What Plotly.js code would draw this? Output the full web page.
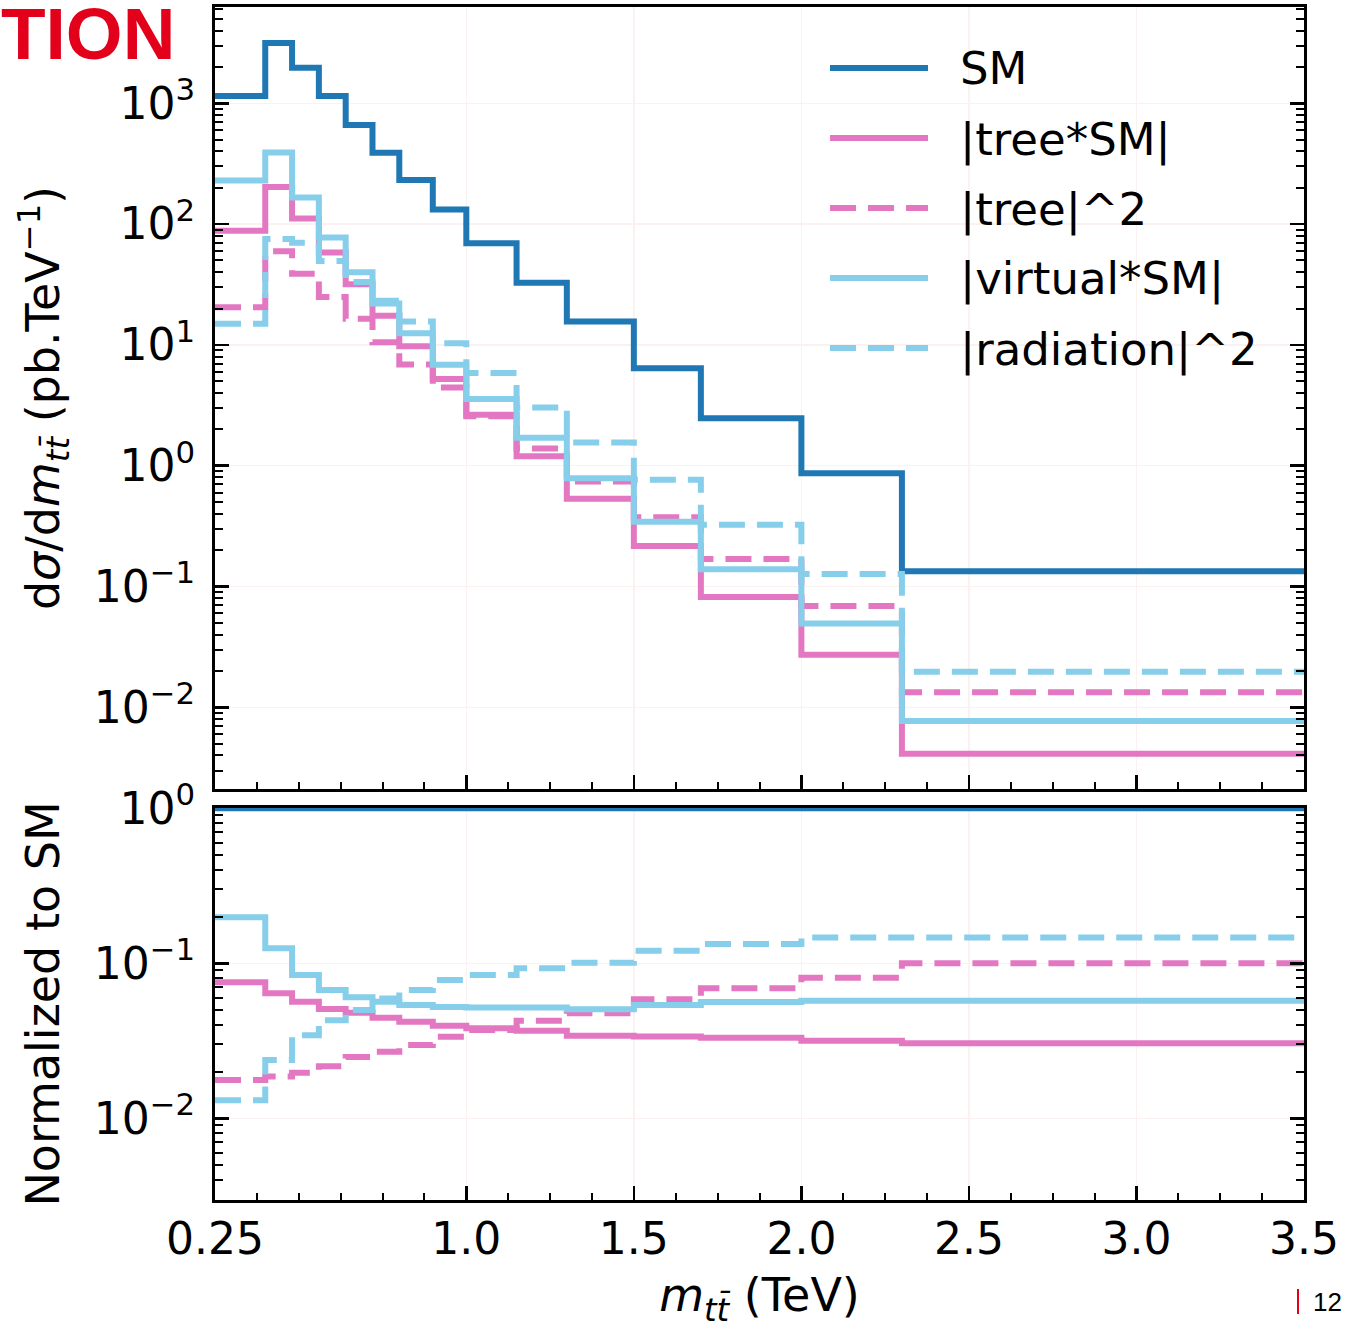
<!DOCTYPE html>
<html>
<head>
<meta charset="utf-8">
<script src="https://cdn.plot.ly/plotly-3.0.1.min.js"></script>
<style>html,body{margin:0;padding:0;background:#fff;}#chart{width:1352px;height:1329px;}</style>
</head>
<body>
<div id="chart"></div>
<script>
// ---- data ----
const binEdges = [0.25, 0.4, 0.48, 0.56, 0.64, 0.72, 0.8, 0.9, 1.0, 1.15, 1.3, 1.5, 1.7, 2.0, 2.3, 3.5];
const smVals      = [1148, 3155, 1972, 1148, 661, 390, 232, 132, 69.4, 32.7, 15.6, 6.40, 2.47, 0.865, 0.134];
const treeSMVals  = [88, 203, 111, 58.2, 31.7, 17.4, 9.74, 5.23, 2.64, 1.20, 0.532, 0.216, 0.0818, 0.0273, 0.00412];
const tree2Vals   = [20.5, 59.5, 38.8, 24.9, 16.5, 10.5, 6.89, 4.44, 2.57, 1.39, 0.74, 0.375, 0.169, 0.069, 0.0133];
const virtSMVals  = [229, 392, 166, 77.3, 39.9, 22.0, 12.5, 6.86, 3.56, 1.70, 0.788, 0.344, 0.139, 0.0495, 0.0077];
const rad2Vals    = [15.0, 75.1, 70.0, 49.4, 33.1, 23.2, 15.6, 10.3, 5.84, 3.04, 1.56, 0.765, 0.325, 0.127, 0.0197];

const ratioSM     = [1, 1, 1, 1, 1, 1, 1, 1, 1, 1, 1, 1, 1, 1, 1];
const ratioTreeSM = [0.0754, 0.064, 0.0565, 0.0507, 0.048, 0.0445, 0.042, 0.0396, 0.0381, 0.0367, 0.0341, 0.0337, 0.0331, 0.0316, 0.0305];
const ratioTree2  = [0.0177, 0.0186, 0.0197, 0.0217, 0.0249, 0.0269, 0.0297, 0.0336, 0.0371, 0.0426, 0.0476, 0.0586, 0.069, 0.0807, 0.1];
const ratioVirtSM = [0.198, 0.125, 0.084, 0.0673, 0.0604, 0.0565, 0.0538, 0.0522, 0.0518, 0.0518, 0.0505, 0.0538, 0.0563, 0.0574, 0.0574];
const ratioRad2   = [0.0131, 0.0238, 0.0344, 0.043, 0.050, 0.0594, 0.0673, 0.078, 0.0841, 0.0929, 0.101, 0.1205, 0.133, 0.147, 0.147];

const seriesNames = ['SM', '|tree*SM|', '|tree|^2', '|virtual*SM|', '|radiation|^2'];
const xTickVals = [0.25, 1.0, 1.5, 2.0, 2.5, 3.0, 3.5];
const xTickText = ['0.25', '1.0', '1.5', '2.0', '2.5', '3.0', '3.5'];
const topTickVals = [1e-2, 1e-1, 1, 10, 100, 1000];
const topTickText = ['10<sup>−2</sup>', '10<sup>−1</sup>', '10<sup>0</sup>', '10<sup>1</sup>', '10<sup>2</sup>', '10<sup>3</sup>'];
const botTickVals = [1e-2, 1e-1, 1];
const botTickText = ['10<sup>−2</sup>', '10<sup>−1</sup>', '10<sup>0</sup>'];

// ---- styles ----
const C_SM = '#1f77b4', C_PINK = '#e377c2', C_SKY = '#87ceeb';
const LW = 6;
const DASH = '26px,12px';
const styles = [
  {color: C_SM, dash: 'solid'},
  {color: C_PINK, dash: 'solid'},
  {color: C_PINK, dash: DASH},
  {color: C_SKY, dash: 'solid'},
  {color: C_SKY, dash: DASH}
];

function stepTrace(vals, st, name, xa, ya) {
  return {
    x: binEdges.slice(),
    y: vals.concat([vals[vals.length - 1]]),
    type: 'scatter', mode: 'lines', name: name,
    line: {shape: 'hv', color: st.color, width: LW, dash: st.dash},
    xaxis: xa, yaxis: ya, showlegend: false, hoverinfo: 'skip'
  };
}

const topSeries = [smVals, treeSMVals, tree2Vals, virtSMVals, rad2Vals];
const botSeries = [ratioSM, ratioTreeSM, ratioTree2, ratioVirtSM, ratioRad2];
const traces = [];
topSeries.forEach((v, i) => traces.push(stepTrace(v, styles[i], seriesNames[i], 'x2', 'y2')));
botSeries.forEach((v, i) => traces.push(stepTrace(v, styles[i], seriesNames[i], 'x', 'y')));

// ---- geometry helpers (pixels -> paper) ----
const ML = 215, MR = 48, MT = 7, MB = 129, W = 1352, H = 1329;
const PW = W - ML - MR, PH = H - MT - MB;
const xp = px => (px - ML) / PW;
const yp = py => (H - MB - py) / PH;

function minorLog(lo, hi) {
  const out = [];
  for (let d = lo; d <= hi; d++) for (let k = 2; k <= 9; k++) out.push(k * Math.pow(10, d));
  return out;
}

const FONT = 'DejaVu Sans';
const GRID = '#fbf1f1';
const TICKSIZE = 44, TITLESIZE = 46, LEGSIZE = 45;
const axisCommon = {
  showline: true, linecolor: '#000', linewidth: 3,
  ticks: 'inside', tickcolor: '#000', tickwidth: 2.5, ticklen: 14,
  showgrid: true, gridcolor: GRID, gridwidth: 1.5, zeroline: false,
  tickfont: {family: FONT, size: TICKSIZE, color: '#000'}
};

const xMinor = {tickmode: 'linear', tick0: 0.25, dtick: 0.125, ticks: 'inside', ticklen: 7, tickwidth: 2, tickcolor: '#000', showgrid: false};

const layout = {
  width: W, height: H,
  margin: {l: ML, r: MR, t: MT, b: MB},
  paper_bgcolor: '#fff', plot_bgcolor: '#fff',
  font: {family: FONT, color: '#000'},
  showlegend: false,
  xaxis: Object.assign({}, axisCommon, {
    anchor: 'y', domain: [0, 1], range: [0.25, 3.5],
    tickmode: 'array', tickvals: xTickVals, ticktext: xTickText,
    mirror: true, minor: xMinor, ticklabelstandoff: -2,
    title: {text: '<i>m</i><sub><i>tt\u0304</i></sub> (TeV)', font: {family: FONT, size: TITLESIZE, color: '#000'}, standoff: 38}
  }),
  xaxis2: Object.assign({}, axisCommon, {
    anchor: 'y2', domain: [0, 1], range: [0.25, 3.5], matches: 'x',
    tickmode: 'array', tickvals: xTickVals, ticktext: xTickText, showticklabels: false,
    mirror: true, minor: xMinor
  }),
  yaxis: Object.assign({}, axisCommon, {
    anchor: 'x', domain: [0, yp(808)], type: 'log', range: [-2.527, 0.002],
    tickmode: 'array', tickvals: botTickVals, ticktext: botTickText,
    mirror: 'ticks', ticklabelstandoff: 8,
    minor: {tickmode: 'array', tickvals: minorLog(-3, 0), ticks: 'inside', ticklen: 8, tickwidth: 2, tickcolor: '#000', showgrid: false},
    title: {text: 'Normalized to SM', font: {family: FONT, size: TITLESIZE, color: '#000'}, standoff: 20}
  }),
  yaxis2: Object.assign({}, axisCommon, {
    anchor: 'x2', domain: [yp(789), 1], type: 'log', range: [-2.676, 3.797],
    tickmode: 'array', tickvals: topTickVals, ticktext: topTickText,
    mirror: 'ticks', ticklabelstandoff: 8,
    minor: {tickmode: 'array', tickvals: minorLog(-3, 3), ticks: 'inside', ticklen: 8, tickwidth: 2, tickcolor: '#000', showgrid: false},
    title: {text: 'd<i>σ</i>/d<i>m</i><sub><i>tt\u0304</i></sub> (pb.TeV<sup>−1</sup>)', font: {family: FONT, size: TITLESIZE, color: '#000'}, standoff: 20}
  }),
  shapes: [],
  annotations: []
};

// ---- custom legend ----
const legendRows = [68, 138, 208, 278, 348];
seriesNames.forEach((name, i) => {
  layout.shapes.push({
    type: 'line', xref: 'paper', yref: 'paper',
    x0: xp(830), x1: xp(928), y0: yp(legendRows[i]), y1: yp(legendRows[i]),
    line: {color: styles[i].color, width: LW, dash: styles[i].dash}
  });
  layout.annotations.push({
    xref: 'paper', yref: 'paper', x: xp(958), y: yp(legendRows[i] + 1),
    xanchor: 'left', yanchor: 'middle', showarrow: false,
    text: name, font: {family: FONT, size: LEGSIZE, color: '#000'}
  });
});

// ---- slide decorations ----
layout.annotations.push({
  xref: 'paper', yref: 'paper', x: xp(-1), y: yp(33), xanchor: 'left', yanchor: 'middle',
  showarrow: false, text: '<b>TION</b>', font: {family: 'Liberation Sans', size: 73, color: '#e2001a'}
});
layout.shapes.push({
  type: 'line', xref: 'paper', yref: 'paper', x0: xp(1298), x1: xp(1298), y0: yp(1289), y1: yp(1314),
  line: {color: '#e2001a', width: 2}
});
layout.annotations.push({
  xref: 'paper', yref: 'paper', x: xp(1311), y: yp(1302), xanchor: 'left', yanchor: 'middle',
  showarrow: false, text: '12', font: {family: 'Liberation Sans', size: 26, color: '#000'}
});

Plotly.newPlot('chart', traces, layout, {displayModeBar: false, staticPlot: true});
</script>
</body>
</html>
